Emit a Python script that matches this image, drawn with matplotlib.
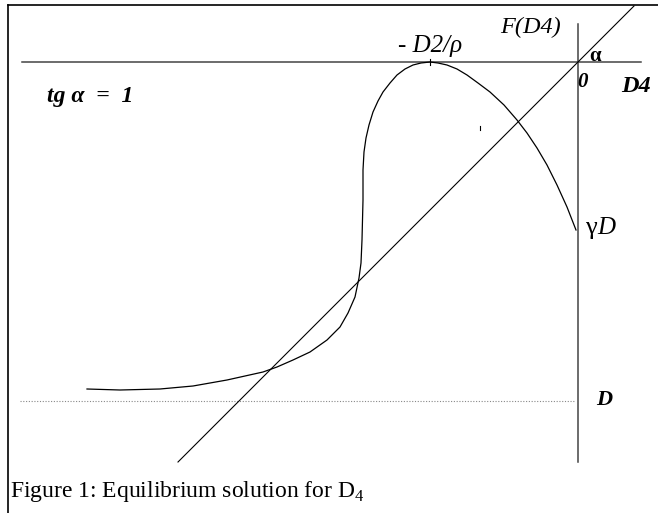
import matplotlib
matplotlib.use("Agg")
import matplotlib.pyplot as plt

# schematic coordinates: origin where the axes cross, y up
curve_x = [-491, -458, -418, -385, -351, -315, -301, -285, -268, -251, -238, -230, -223,
           -219, -217, -216, -215, -215, -214, -212, -209, -205, -200, -195, -188, -181,
           -173, -165, -157, -148, -140, -131, -121, -111, -100, -88, -74, -61, -51, -41,
           -31, -21, -11, -2]
curve_y = [-327, -328, -327, -324, -318, -310, -305, -298, -290, -278, -265, -251, -235,
           -216, -201, -178, -138, -108, -90, -76, -63, -50, -39, -30, -21, -13,
           -7, -3, -1, 0, -1, -3, -7, -13, -21, -30, -43, -58, -71, -86,
           -103, -123, -145, -168]
diag_x = [-400, 56]          # line F = D4 (tg alpha = 1)
level_D = -339               # dotted level D
peak_x = -148                # position of -D2/rho
gammaD = -168                # end value gamma*D

plt.rcParams['font.family'] = ['Liberation Serif', 'DejaVu Serif']
plt.rcParams['mathtext.fontset'] = 'custom'
plt.rcParams['mathtext.rm'] = 'Liberation Serif'

fig = plt.figure(figsize=(6.58, 5.13), dpi=100)
ax = fig.add_axes([0, 0, 1, 1])
ax.set_xlim(-578, 80)
ax.set_ylim(-451, 62)
ax.axis('off')

# frame
ax.plot([-570, -570], [-460, 57], color='black', lw=1.2)
ax.plot([-570, 80], [57, 57], color='black', lw=1.2)

# axes
ax.plot([-556, 63], [0, 0], color='#444444', lw=1.1)
ax.plot([0, 0], [-400, 38], color='#444444', lw=1.1)

# dotted level
ax.plot([-558, -3], [level_D, level_D], color='#888888', lw=0.8, linestyle=(0, (1, 1.5)))

# diagonal
ax.plot(diag_x, diag_x, color='black', lw=0.8)

# curve
ax.plot(curve_x, curve_y, color='black', lw=0.9)
ax.plot([peak_x, peak_x], [-3, 3], color='black', lw=0.8)
ax.plot([-98, -98], [-64, -68], color='black', lw=0.8)

# labels
ax.text(-78, 29, 'F(D4)', fontsize=17.5, style='italic', ha='left', va='baseline')
ax.text(-180, 10, '- D2/ρ', fontsize=18, style='italic', ha='left', va='baseline')
ax.text(11, 1, 'α', fontsize=15, weight='bold', ha='left', va='baseline')
ax.text(-1, -25, '0', fontsize=15, style='italic', weight='bold', ha='left', va='baseline')
ax.text(43, -30, 'D4', fontsize=17.5, style='italic', weight='bold', ha='left', va='baseline')
ax.text(-531, -40, 'tg α  =  1', fontsize=17, style='italic', weight='bold', ha='left', va='baseline')
ax.text(7, gammaD - 4, 'γ', fontsize=19, ha='left', va='baseline')
ax.text(19, gammaD - 4, 'D', fontsize=18, style='italic', ha='left', va='baseline')
ax.text(18, level_D - 4, 'D', fontsize=16, style='italic', weight='bold', ha='left', va='baseline')
ax.text(-568, -435, 'Figure 1: Equilibrium solution for D$_4$', fontsize=17,
        ha='left', va='baseline')

fig.savefig('out.png', dpi=100)
